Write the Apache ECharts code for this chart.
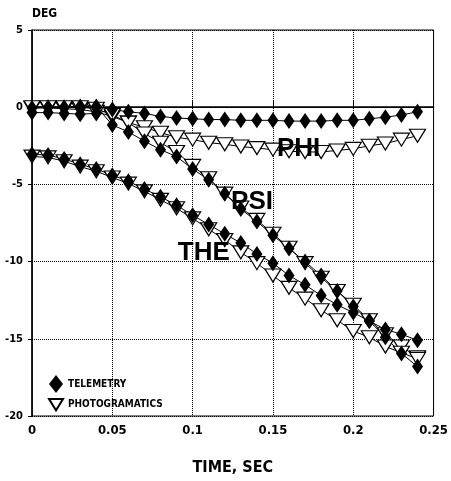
<!DOCTYPE html>
<html>
<head>
    <meta charset="utf-8">
    <title>ECharts</title>
    <script src="https://cdn.jsdelivr.net/npm/echarts@6/dist/echarts.min.js"></script>
    <style>html,body{margin:0;padding:0;background:#fff;}</style>
</head>
<body>
    <div id="main" style="width:451px;height:481px;"></div>
    <script type="text/javascript">
// time, sec (one sample every 0.01 s)
var time = [0, 0.01, 0.02, 0.03, 0.04, 0.05, 0.06, 0.07, 0.08, 0.09, 0.10, 0.11, 0.12,
            0.13, 0.14, 0.15, 0.16, 0.17, 0.18, 0.19, 0.20, 0.21, 0.22, 0.23, 0.24];

// telemetry (diamonds), deg
var phiTel = [-0.35, -0.35, -0.4, -0.45, -0.4, -0.15, -0.3, -0.4, -0.6, -0.7, -0.75, -0.8, -0.8,
              -0.85, -0.85, -0.85, -0.9, -0.9, -0.9, -0.85, -0.85, -0.75, -0.65, -0.5, -0.3];
var psiTel = [-0.05, 0, 0, 0.05, 0.05, -1.15, -1.6, -2.2, -2.75, -3.2, -4.0, -4.7, -5.6,
              -6.6, -7.4, -8.3, -9.15, -10.0, -10.9, -11.9, -12.9, -13.85, -14.9, -15.95, -16.8];
var theTel = [-3.05, -3.1, -3.35, -3.7, -4.0, -4.4, -4.8, -5.3, -5.8, -6.35, -7.0, -7.6, -8.2,
              -8.8, -9.5, -10.1, -10.9, -11.5, -12.2, -12.8, -13.3, -13.85, -14.4, -14.7, -15.1];

// photogramatics (triangles), deg
var phiPho = [-0.05, -0.05, -0.1, -0.15, -0.3, -0.6, -1.0, -1.3, -1.65, -1.95, -2.1, -2.3, -2.4,
              -2.55, -2.65, -2.75, -2.85, -2.9, -2.9, -2.8, -2.7, -2.5, -2.35, -2.1, -1.85];
var psiPho = [0, 0, 0, 0, -0.1, -0.5, -1.0, -1.7, -2.3, -2.9, -3.8, -4.6, -5.6,
              -6.5, -7.3, -8.2, -9.1, -10.1, -11.05, -11.9, -12.8, -13.8, -14.7, -15.5, -16.2];
var thePho = [-3.2, -3.25, -3.5, -3.85, -4.15, -4.55, -4.95, -5.45, -6.0, -6.55, -7.2, -7.9, -8.6,
              -9.4, -10.1, -10.9, -11.7, -12.4, -13.15, -13.8, -14.5, -14.9, -15.5, -15.9, -16.3];

// curve names written in the plot [t, deg, text]
var curveLabels = [[0.166, -2.67, 'PHI'], [0.137, -6.1, 'PSI'], [0.107, -9.4, 'THE']];

var xTicks = [0, 0.05, 0.1, 0.15, 0.2, 0.25];
var yTicks = [5, 0, -5, -10, -15, -20];

var narrow = "'DejaVu Sans Condensed', sans-serif";
var tri = 'path://M0,0L16,0L8,13Z';

function pairs(v) { return time.map(function (t, i) { return [t, v[i]]; }); }

function tel(v) {
    return {
        name: 'TELEMETRY', type: 'line', data: pairs(v),
        symbol: 'diamond', symbolSize: [11, 16], showAllSymbol: true,
        itemStyle: { color: '#000' },
        lineStyle: { color: '#000', width: 1 }
    };
}
function pho(v) {
    return {
        name: 'PHOTOGRAMATICS', type: 'line', data: pairs(v),
        symbol: tri, symbolSize: [16, 13], showAllSymbol: true,
        itemStyle: { color: '#fff', borderColor: '#000', borderWidth: 1.2 },
        lineStyle: { color: '#000', width: 1 }
    };
}

var series = [pho(phiPho), pho(psiPho), pho(thePho), tel(phiTel), tel(psiTel), tel(theTel)];
series[0].markLine = {
    silent: true, symbol: ['none', 'none'], label: { show: false },
    lineStyle: { color: '#000', type: 'solid', width: 1 },
    data: [{ yAxis: 0 }]
};

var myChart = echarts.init(document.getElementById('main'));
var option = {
    animation: false,
    backgroundColor: '#fff',
    grid: { left: 32, right: 10, top: 30, bottom: 57, show: true, borderColor: '#000', borderWidth: 1 },
    legend: {
        orient: 'vertical', left: 43, top: 370, itemWidth: 14, itemHeight: 18, itemGap: 5,
        selectedMode: false,
        textStyle: { fontFamily: narrow, fontWeight: 'bold', fontSize: 10, color: '#000' },
        data: [{ name: 'TELEMETRY', icon: 'diamond' }, { name: 'PHOTOGRAMATICS', icon: tri }]
    },
    xAxis: {
        type: 'value', min: xTicks[0], max: xTicks[xTicks.length - 1], interval: 0.05,
        name: 'TIME, SEC', nameLocation: 'middle', nameGap: 44,
        nameTextStyle: { fontFamily: narrow, fontWeight: 'bold', fontSize: 16, color: '#000' },
        axisLine: { lineStyle: { color: '#000', width: 1.5 } },
        axisTick: { inside: true, length: 6, lineStyle: { color: '#000' } },
        axisLabel: { fontFamily: narrow, fontWeight: 'bold', fontSize: 13, color: '#000', margin: 8 },
        splitLine: { show: true, lineStyle: { color: '#000', type: 'dotted', width: 1 } }
    },
    yAxis: {
        type: 'value', min: yTicks[yTicks.length - 1], max: yTicks[0], interval: 5,
        name: 'DEG', nameLocation: 'end', nameGap: 10,
        nameTextStyle: { fontFamily: narrow, fontWeight: 'bold', fontSize: 12, color: '#000', align: 'left' },
        axisLine: { show: true, lineStyle: { color: '#000', width: 1.5 } },
        axisTick: { show: true, length: 4, lineStyle: { color: '#000' } },
        axisLabel: { fontFamily: narrow, fontWeight: 'bold', fontSize: 11, color: '#000', margin: 9 },
        splitLine: { show: true, lineStyle: { color: '#000', type: 'dotted', width: 1 } }
    },
    series: series
};
myChart.setOption(option);

// curve names, placed through the chart's own scales
myChart.setOption({
    graphic: curveLabels.map(function (c) {
        var p = myChart.convertToPixel({ gridIndex: 0 }, [c[0], c[1]]);
        return {
            type: 'text', x: p[0], y: p[1], z: 100, silent: true,
            style: {
                text: c[2], fill: '#000', align: 'center', verticalAlign: 'middle',
                font: "bold 26px 'Liberation Sans', Arial, sans-serif"
            }
        };
    })
});
    </script>
</body>
</html>
